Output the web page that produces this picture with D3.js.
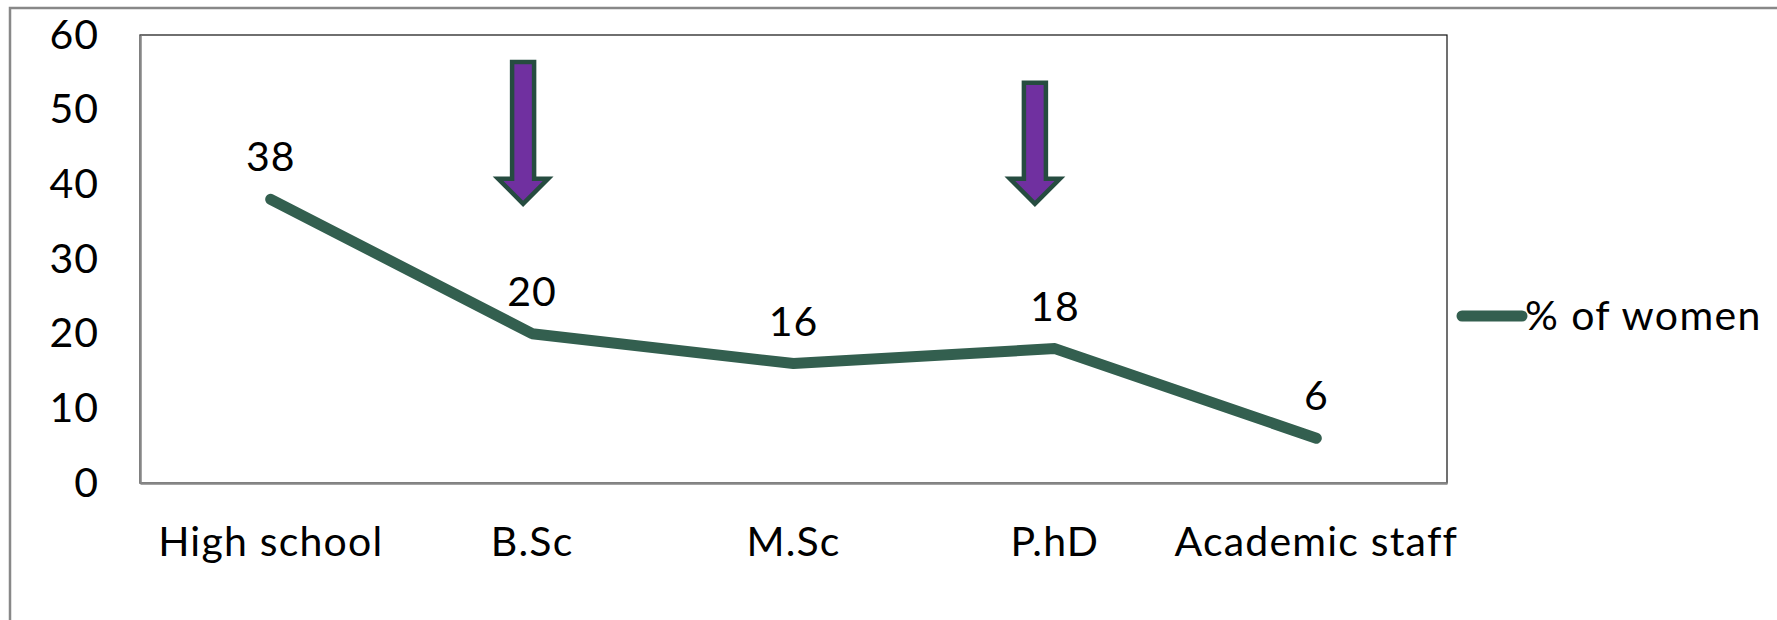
<!DOCTYPE html>
<html>
<head>
<meta charset="utf-8">
<script src="https://cdn.jsdelivr.net/npm/d3@7"></script>
<style>
    body { margin: 0; background: #fff; }
    text { font-family: Lato, "Open Sans", sans-serif; fill: #000; }
</style>
</head>
<body>
<svg id="chart" width="1777" height="620"></svg>
<script>
// data
const categories = ["High school", "B.Sc", "M.Sc", "P.hD", "Academic staff"];
const womenPct = [38, 20, 16, 18, 6];
const yTicks = [0, 10, 20, 30, 40, 50, 60];
const seriesName = "% of women";
// the two purple arrows, placed by category with a small pixel nudge
const arrowCats = ["B.Sc", "P.hD"];
const arrowTops = [56.4, 53.6];
const arrowTips = [37.4, 37.4];
const arrowNudge = [-9, -20];

const svg = d3.select('#chart');
const lineColor = '#335f4f';
const fontSize = '41px';

const margin = { left: 140, right: 330, top: 35, bottom: 137 };
const W = 1777, H = 620;

let x = d3.scaleBand()
    .domain(categories)
    .range([margin.left, W - margin.right]);

let y = d3.scaleLinear()
    .domain([0, 60])
    .range([H - margin.bottom, margin.top]);

// outer frame (top + left only visible)
svg.append('path')
    .attr('d', `M10,${H} L10,8 L${W},8`)
    .attr('fill', 'none')
    .attr('stroke', '#888')
    .attr('stroke-width', 2.5);

// plot area border
svg.append('rect')
    .attr('x', margin.left)
    .attr('y', margin.top)
    .attr('width', W - margin.right - margin.left)
    .attr('height', H - margin.bottom - margin.top)
    .attr('fill', 'none')
    .attr('stroke', '#111')
    .attr('stroke-width', 1.2);

// y axis
const yAxis = svg.append('g')
    .attr('transform', `translate(${margin.left},0)`)
    .call(d3.axisLeft(y).tickValues(yTicks).tickSize(0).tickPadding(41));
yAxis.select('.domain').attr('stroke', '#868686').attr('stroke-width', 2.5);
yAxis.selectAll('text')
    .style('font-size', fontSize)
    .style('letter-spacing', '1px')
    .attr('font-family', null);

// x axis
const xAxis = svg.append('g')
    .attr('transform', `translate(0,${H - margin.bottom})`)
    .call(d3.axisBottom(x).tickSize(0).tickPadding(44));
xAxis.select('.domain').attr('stroke', '#868686').attr('stroke-width', 2.5);
xAxis.selectAll('text')
    .style('font-size', fontSize)
    .style('letter-spacing', '1.2px')
    .attr('font-family', null);

// line
const pts = categories.map((c, i) => ({ c: c, v: womenPct[i] }));
const line = d3.line()
    .x(d => x(d.c) + x.bandwidth() / 2)
    .y(d => y(d.v));

svg.append('path')
    .datum(pts)
    .attr('d', line)
    .attr('fill', 'none')
    .attr('stroke', lineColor)
    .attr('stroke-width', 11)
    .attr('stroke-linejoin', 'round')
    .attr('stroke-linecap', 'round');

// data labels
svg.selectAll('.lbl')
    .data(pts)
    .enter()
    .append('text')
    .attr('class', 'lbl')
    .attr('x', d => x(d.c) + x.bandwidth() / 2)
    .attr('y', d => y(d.v) - 28)
    .attr('text-anchor', 'middle')
    .style('font-size', fontSize)
    .style('letter-spacing', '1px')
    .text(d => d.v);

// arrows
const arrows = arrowCats.map((c, i) => ({
    cx: x(c) + x.bandwidth() / 2 + arrowNudge[i],
    top: y(arrowTops[i]),
    tip: y(arrowTips[i])
}));
svg.selectAll('.arrow')
    .data(arrows)
    .enter()
    .append('path')
    .attr('class', 'arrow')
    .attr('d', d => {
        const sw = 11, hw = 25, headStart = d.tip - 25;
        return `M${d.cx - sw},${d.top} L${d.cx + sw},${d.top} L${d.cx + sw},${headStart}` +
            ` L${d.cx + hw},${headStart} L${d.cx},${d.tip} L${d.cx - hw},${headStart}` +
            ` L${d.cx - sw},${headStart} Z`;
    })
    .attr('fill', '#7030a0')
    .attr('stroke', '#264c40')
    .attr('stroke-width', 4.5)
    .attr('stroke-linejoin', 'miter');

// legend
const legend = svg.append('g').attr('transform', `translate(${W - margin.right + 15},316)`);
legend.append('line')
    .attr('x1', 0).attr('x2', 60)
    .attr('y1', 0).attr('y2', 0)
    .attr('stroke', lineColor)
    .attr('stroke-width', 11)
    .attr('stroke-linecap', 'round');
legend.append('text')
    .attr('x', 63)
    .attr('y', 0)
    .attr('dy', '0.35em')
    .style('font-size', fontSize)
    .style('letter-spacing', '1.4px')
    .text(seriesName);
</script>
</body>
</html>
